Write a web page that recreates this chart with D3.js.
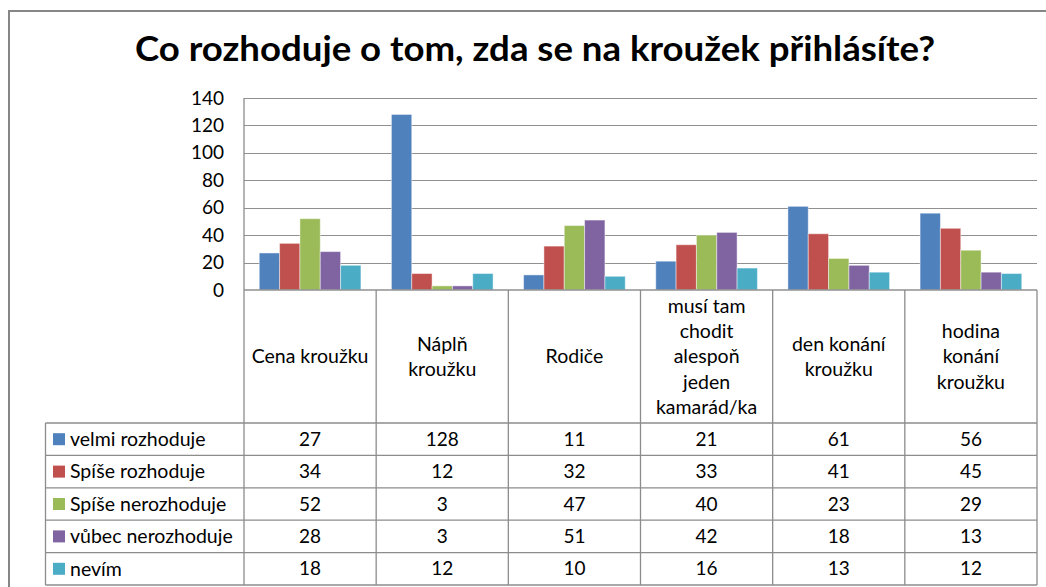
<!DOCTYPE html>
<html>
<head>
<meta charset="utf-8">
<script src="https://cdn.jsdelivr.net/npm/d3@7"></script>
<style>
  body { margin: 0; background: #fff; }
  text { font-family: Lato, "Open Sans", sans-serif; fill: #000; }
</style>
</head>
<body>
<div id="chart"></div>
<script>
// chart data
const categories = ['Cena kroužku', 'Náplň kroužku', 'Rodiče', 'musí tam chodit alespoň jeden kamarád/ka', 'den konání kroužku', 'hodina konání kroužku'];
const categoryLines = [['Cena kroužku'], ['Náplň', 'kroužku'], ['Rodiče'], ['musí tam', 'chodit', 'alespoň', 'jeden', 'kamarád/ka'], ['den konání', 'kroužku'], ['hodina', 'konání', 'kroužku']];
const seriesNames = ['velmi rozhoduje', 'Spíše rozhoduje', 'Spíše nerozhoduje', 'vůbec nerozhoduje', 'nevím'];
const velmi = [27, 128, 11, 21, 61, 56];
const spiseAno = [34, 12, 32, 33, 41, 45];
const spiseNe = [52, 3, 47, 40, 23, 29];
const vubecNe = [28, 3, 51, 42, 18, 13];
const nevim = [18, 12, 10, 16, 13, 12];
const yTicks = [0, 20, 40, 60, 80, 100, 120, 140];
const title = 'Co rozhoduje o tom, zda se na kroužek přihlásíte?';

const seriesValues = [velmi, spiseAno, spiseNe, vubecNe, nevim];
const colors = ['#4F81BD', '#C0504D', '#9BBB59', '#8064A2', '#4BACC6'];

const W = 1046, H = 587;
const plot = { left: 244, right: 1037, top: 98, bottom: 290 };
const table = { left: 45.5, headerBottom: 423, bottom: 585 };
const lineColor = '#8c8c8c';
const textSize = 19.5, numSize = 19;

const svg = d3.select('#chart').append('svg')
  .attr('width', W)
  .attr('height', H);

// outer chart border
svg.append('rect')
  .attr('x', 9).attr('y', 11)
  .attr('width', W + 20).attr('height', H + 20)
  .attr('fill', 'none')
  .attr('stroke', '#868686')
  .attr('stroke-width', 2);

// title
svg.append('text')
  .attr('x', (135 + 935) / 2)
  .attr('y', 61)
  .attr('text-anchor', 'middle')
  .attr('font-size', 34)
  .attr('font-weight', 'bold')
  .attr('textLength', 800)
  .attr('lengthAdjust', 'spacingAndGlyphs')
  .text(title);

// scales
const y = d3.scaleLinear().domain([0, 140]).range([plot.bottom, plot.top]);
const x0 = d3.scaleBand().domain(categories).range([plot.left, plot.right]);
const x1 = d3.scaleBand().domain(seriesNames).range([0, x0.bandwidth()]).paddingOuter(0.75);
const rowY = d3.scaleBand().domain(seriesNames).range([table.headerBottom, table.bottom]);

// gridlines
svg.append('g')
  .selectAll('line')
  .data(yTicks.filter(d => d > 0))
  .enter()
  .append('line')
  .attr('x1', plot.left).attr('x2', plot.right)
  .attr('y1', d => Math.round(y(d)) + 0.5).attr('y2', d => Math.round(y(d)) + 0.5)
  .attr('stroke', '#909090')
  .attr('stroke-width', 1.2);

// y axis labels
const yAxis = svg.append('g')
  .attr('transform', `translate(${plot.left},0)`)
  .call(d3.axisLeft(y).tickValues(yTicks).tickSize(0).tickPadding(20));
yAxis.select('.domain').remove();
yAxis.selectAll('text')
  .attr('font-size', numSize)
  .attr('font-family', 'Lato, sans-serif')
  .attr('fill', '#000');

// bars
const groups = svg.append('g')
  .selectAll('g')
  .data(categories)
  .enter()
  .append('g')
  .attr('transform', d => `translate(${x0(d)},0)`);

groups.selectAll('rect')
  .data((c, ci) => seriesNames.map((s, si) => ({ s, v: seriesValues[si][ci], color: colors[si] })))
  .enter()
  .append('rect')
  .attr('x', d => x1(d.s))
  .attr('y', d => y(d.v))
  .attr('width', x1.bandwidth())
  .attr('height', d => y(0) - y(d.v))
  .attr('fill', d => d.color)
  .attr('stroke', 'rgba(255,255,255,0.45)')
  .attr('stroke-width', 1);

// table lines
const tbl = svg.append('g')
  .attr('stroke', lineColor)
  .attr('stroke-width', 1.3)
  .attr('fill', 'none');

// x axis line / table top
tbl.append('line')
  .attr('x1', plot.left).attr('x2', plot.right)
  .attr('y1', plot.bottom).attr('y2', plot.bottom)
  .attr('stroke', '#909090');

// plot left axis
tbl.append('line')
  .attr('x1', plot.left).attr('x2', plot.left)
  .attr('y1', plot.top).attr('y2', plot.bottom);

// vertical category boundaries
const bounds = categories.map(c => x0(c)).concat([plot.right]);
tbl.selectAll('line.v')
  .data(bounds)
  .enter()
  .append('line')
  .attr('class', 'v')
  .attr('x1', d => d).attr('x2', d => d)
  .attr('y1', plot.bottom).attr('y2', table.bottom);

// legend column left edge
tbl.append('line')
  .attr('x1', table.left).attr('x2', table.left)
  .attr('y1', table.headerBottom).attr('y2', table.bottom);

// horizontal row lines
tbl.selectAll('line.h')
  .data(seriesNames.map(s => rowY(s)).concat([table.bottom]))
  .enter()
  .append('line')
  .attr('class', 'h')
  .attr('x1', table.left).attr('x2', plot.right)
  .attr('y1', d => d).attr('y2', d => d);

// header category labels
const lineH = 25.3;
const headerMid = (plot.bottom + table.headerBottom) / 2;
categories.forEach((c, ci) => {
  const lines = categoryLines[ci];
  const t = svg.append('text')
    .attr('text-anchor', 'middle')
    .attr('font-size', textSize);
  lines.forEach((ln, li) => {
    t.append('tspan')
      .attr('x', x0(c) + x0.bandwidth() / 2)
      .attr('y', headerMid + (li - (lines.length - 1) / 2) * lineH)
      .attr('dy', '0.35em')
      .text(ln);
  });
});

// legend keys & names
const rows = svg.append('g')
  .selectAll('g')
  .data(seriesNames)
  .enter()
  .append('g')
  .attr('transform', d => `translate(0,${rowY(d) + rowY.bandwidth() / 2})`);

rows.append('rect')
  .attr('x', 53).attr('y', -6)
  .attr('width', 12).attr('height', 12)
  .attr('fill', (d, i) => colors[i]);

rows.append('text')
  .attr('x', 70)
  .attr('dy', '0.35em')
  .attr('font-size', textSize)
  .text(d => d);

// values
rows.each(function (s, si) {
  d3.select(this).selectAll('text.val')
    .data(seriesValues[si])
    .enter()
    .append('text')
    .attr('class', 'val')
    .attr('x', (v, ci) => x0(categories[ci]) + x0.bandwidth() / 2)
    .attr('dy', '0.35em')
    .attr('text-anchor', 'middle')
    .attr('font-size', numSize)
    .text(v => v);
});
</script>
</body>
</html>
